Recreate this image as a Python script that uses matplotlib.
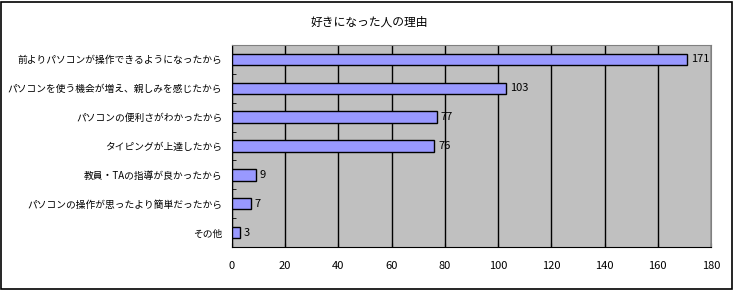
import numpy as np
import matplotlib.pyplot as plt
from matplotlib.patches import Rectangle

plt.rcParams['font.family'] = ['Noto Sans CJK JP', 'DejaVu Sans']

title = '好きになった人の理由'
reasons = ['前よりパソコンが操作できるようになったから',
           'パソコンを使う機会が増え、親しみを感じたから',
           'パソコンの便利さがわかったから',
           'タイピングが上達したから',
           '教員・TAの指導が良かったから',
           'パソコンの操作が思ったより簡単だったから',
           'その他']
counts = [171, 103, 77, 76, 9, 7, 3]
xticks = [0, 20, 40, 60, 80, 100, 120, 140, 160, 180]

W, H = 739, 290
fig = plt.figure(figsize=(W / 100, H / 100), dpi=100)
fig.patch.set_facecolor('white')

# outer chart border
fig.patches.append(Rectangle((0.5 / W, 1.5 / H), 731 / W, 287 / H,
                             transform=fig.transFigure, fill=False,
                             edgecolor='black', linewidth=1.2))

ax = fig.add_axes([232 / W, (H - 247) / H, (711 - 232) / W, (247 - 45) / H])
ax.set_facecolor('#C0C0C0')

y = np.arange(len(reasons))
ax.barh(y, counts, height=0.4, color='#9999FF', edgecolor='black',
        linewidth=1.0, zorder=3)
for yi, v in zip(y, counts):
    ax.text(v + 1.5, yi, str(v), va='center', ha='left', fontsize=8,
            zorder=4)

ax.set_xlim(0, 180)
ax.set_ylim(len(reasons) - 0.5, -0.5)
ax.set_xticks(xticks)
ax.set_xticklabels([str(t) for t in xticks], fontsize=8)
ax.set_yticks(y)
ax.set_yticklabels(reasons, fontsize=7)
ax.set_yticks(np.arange(len(reasons) + 1) - 0.5, minor=True)
ax.tick_params(axis='y', which='major', length=0, pad=7)
ax.tick_params(axis='y', which='minor', length=3, direction='in')
ax.tick_params(axis='x', length=3, direction='in', pad=10)
ax.grid(axis='x', color='black', linewidth=1.0, zorder=1)

ax.spines['top'].set_color('#808080')
ax.spines['right'].set_color('#808080')
ax.spines['left'].set_color('black')
ax.spines['bottom'].set_color('black')

fig.text(369 / W, 1 - 22 / H, title, ha='center', va='center', fontsize=8.5)

fig.savefig('out.png', dpi=100)
